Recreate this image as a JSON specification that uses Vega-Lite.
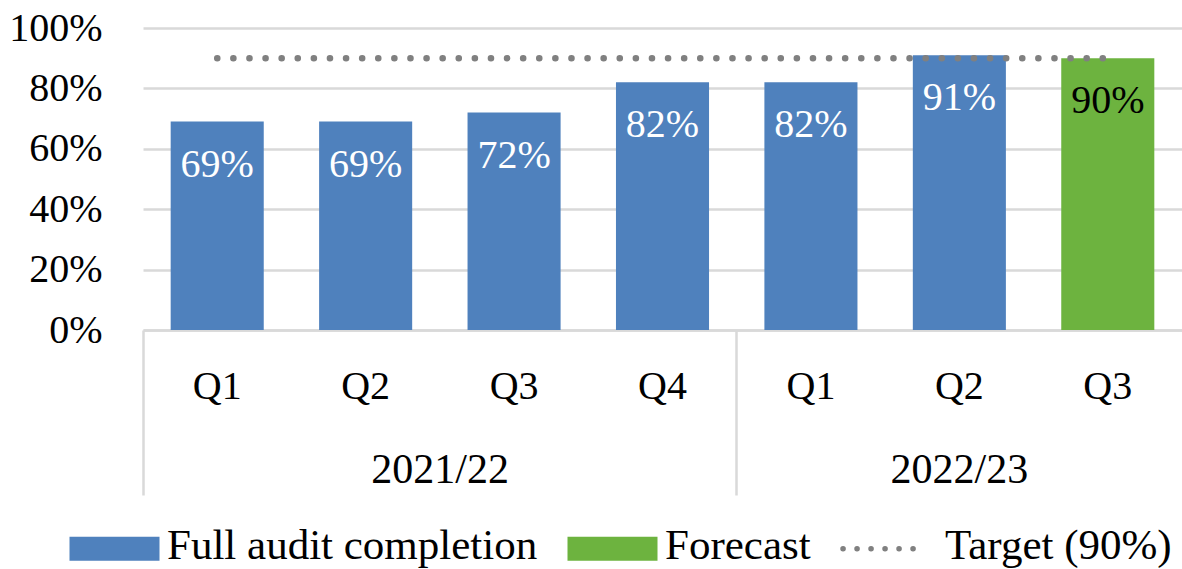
{
  "$schema": "https://vega.github.io/schema/vega-lite/v6.json",
  "autosize": {"type": "none"},
  "padding": {"left": 143, "top": 28, "right": 0, "bottom": 239},
  "width": 1039,
  "height": 302,
  "background": "white",
  "config": {
    "view": {"stroke": null},
    "font": "Liberation Serif",
    "axis": {"labelFont": "Liberation Serif", "labelColor": "black"}
  },
  "data": {
    "values": [
      {"id": "2021/22 Q1", "value": 0.69, "target": 0.9, "series": "Full audit completion"},
      {"id": "2021/22 Q2", "value": 0.69, "target": 0.9, "series": "Full audit completion"},
      {"id": "2021/22 Q3", "value": 0.72, "target": 0.9, "series": "Full audit completion"},
      {"id": "2021/22 Q4", "value": 0.82, "target": 0.9, "series": "Full audit completion"},
      {"id": "2022/23 Q1", "value": 0.82, "target": 0.9, "series": "Full audit completion"},
      {"id": "2022/23 Q2", "value": 0.91, "target": 0.9, "series": "Full audit completion"},
      {"id": "2022/23 Q3", "value": 0.90, "target": 0.9, "series": "Forecast"}
    ]
  },
  "resolve": {"axis": {"x": "independent"}},
  "layer": [
    {
      "mark": {"type": "bar", "width": {"band": 0.627}},
      "encoding": {
        "x": {
          "field": "id", "type": "nominal", "sort": null,
          "scale": {"paddingInner": 0, "paddingOuter": 0},
          "axis": {
            "orient": "bottom", "title": null, "domain": true, "domainColor": "#d9d9d9", "domainWidth": 2.5,
            "ticks": false, "grid": false, "labelAngle": 0, "labelFont": "Liberation Serif",
            "labelExpr": "split(datum.value, ' ')[1]",
            "labelPadding": 68, "labelBaseline": "alphabetic", "labelFontSize": 40, "labelOverlap": false
          }
        },
        "y": {
          "field": "value", "type": "quantitative",
          "scale": {"domain": [0, 1], "nice": false},
          "axis": {
            "title": null, "values": [0, 0.2, 0.4, 0.6, 0.8, 1], "format": ".0%",
            "domain": false, "ticks": false, "grid": true, "gridColor": "#d9d9d9", "gridWidth": 2.5,
            "labelPadding": 41, "labelFontSize": 40, "labelFont": "Liberation Serif"
          }
        },
        "color": {
          "field": "series", "type": "nominal",
          "scale": {"domain": ["Full audit completion", "Forecast", "Target (90%)"], "range": ["#4f81bd", "#6db33f", "#808080"]},
          "legend": {
            "orient": "none", "legendX": -50, "legendY": 499, "direction": "horizontal", "title": null,
            "labelFont": "Liberation Serif", "labelFontSize": 43, "labelColor": "black", "labelLimit": 600,
            "symbolSize": 8100, "symbolType": "M-1,-0.267H1V0.267H-1Z", "labelOffset": 31, "columnPadding": 20,
            "symbolStrokeWidth": 0,
            "encode": {
              "labels": {"update": {"dy": {"value": -3}}},
              "symbols": {
                "update": {
                  "shape": {"signal": "datum.value === 'Target (90%)' ? 'M-1.1,0H0.76' : 'M-1.2,0M-1,-0.267H1V0.267H-1Z'"},
                  "fill": {"signal": "datum.value === 'Target (90%)' ? 'transparent' : scale('color', datum.value)"},
                  "stroke": {"signal": "datum.value === 'Target (90%)' ? '#808080' : 'transparent'"},
                  "strokeWidth": {"signal": "datum.value === 'Target (90%)' ? 5.5 : 0"},
                  "strokeDash": {"signal": "datum.value === 'Target (90%)' ? [0.1, 13.9] : [1, 0]"},
                  "strokeCap": {"value": "round"},
                  "opacity": {"value": 1}
                }
              }
            }
          }
        }
      }
    },
    {
      "mark": {"type": "text", "baseline": "middle", "dy": 43, "fontSize": 40, "font": "Liberation Serif"},
      "encoding": {
        "x": {"field": "id", "type": "nominal", "sort": null, "axis": null},
        "y": {"field": "value", "type": "quantitative"},
        "text": {"field": "value", "type": "quantitative", "format": ".0%"},
        "color": {"condition": {"test": "datum.series === 'Forecast'", "value": "black"}, "value": "white"}
      }
    },
    {
      "mark": {"type": "line", "strokeWidth": 6.5, "strokeDash": [0.1, 16], "strokeCap": "round"},
      "encoding": {
        "x": {
          "field": "id", "type": "nominal", "sort": null,
          "axis": {
            "orient": "bottom", "title": null, "domain": false, "grid": false, "ticks": true,
            "bandPosition": 0, "tickSize": 165, "tickWidth": 2.5, "tickColor": "#d9d9d9",
            "tickOpacity": {"condition": {"test": "indexof(datum.value, 'Q1') >= 0", "value": 1}, "value": 0},
            "labelAngle": 0, "labelFont": "Liberation Serif",
            "labelExpr": "datum.value == '2021/22 Q3' ? '2021/22' : datum.value == '2022/23 Q2' ? '2022/23' : ''",
            "labelOffset": {"condition": {"test": "datum.value == '2021/22 Q3'", "value": -74}, "value": 0},
            "labelPadding": -13, "labelBaseline": "alphabetic", "labelFontSize": 42,
            "labelOverlap": false, "labelBound": false, "labelFlush": false
          }
        },
        "y": {"field": "target", "type": "quantitative"},
        "color": {"datum": "Target (90%)"}
      }
    }
  ]
}
